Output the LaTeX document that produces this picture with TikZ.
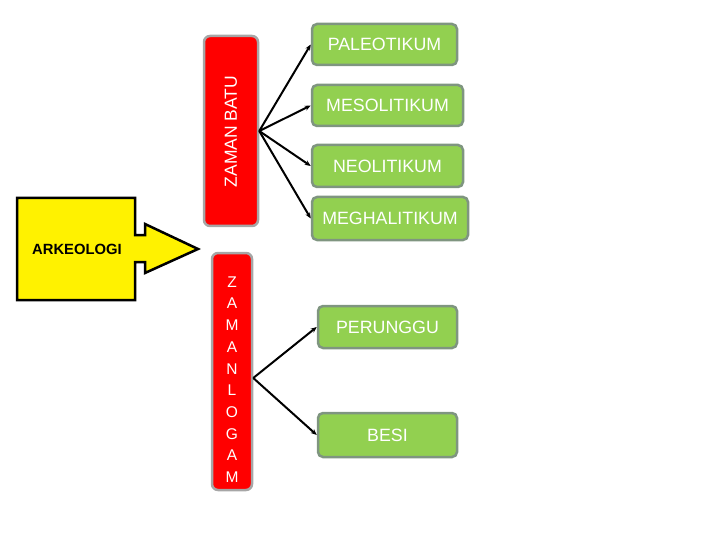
\documentclass[tikz,border=0pt]{standalone}
\usepackage{fontspec}
\setmainfont{Liberation Sans}
\usetikzlibrary{arrows.meta,calc}
\definecolor{gfill}{HTML}{92D050}
\definecolor{gedge}{HTML}{7F9580}
\definecolor{redge}{HTML}{A6A6A6}
\tikzset{
  gbox/.style={draw=gedge, line width=2.5pt, fill=gfill, rounded corners=5pt,
    text=white, font=\fontsize{17.8}{20}\selectfont, inner sep=0pt},
  rbox/.style={draw=redge, line width=2.5pt, fill=red, rounded corners=6pt, inner sep=0pt},
  wtext/.style={text=white, inner sep=0pt},
  conn/.style={line width=2pt, -{Stealth[length=6pt,width=5pt]}},
}
\begin{document}
\begin{tikzpicture}[x=1pt,y=-1pt]
\useasboundingbox (0,0) rectangle (720,540);
% yellow arrow
\draw[line width=2.5pt, fill=yellow, line join=miter]
  (17,198) -- (135,198) -- (135,235) -- (145,235) -- (145,224) -- (198,249)
  -- (145,273) -- (145,262) -- (135,262) -- (135,300) -- (17,300) -- cycle;
\node[inner sep=0pt, font=\fontsize{14.8}{18}\selectfont\bfseries] (ark) at (77,249) {ARKEOLOGI};
% red boxes
\node[rbox, minimum width=54pt, minimum height=190pt] (batu) at (231,131) {};
\node[wtext, rotate=90, font=\fontsize{17.5}{20}\selectfont] (batutext) at (231,131.5) {ZAMAN BATU};
\node[rbox, minimum width=40pt, minimum height=237pt] (logam) at (232,371.5) {};
\node[wtext, align=center, font=\fontsize{15.5}{21.67}\selectfont] (logamtext) at (232,379.5)
  {Z\\A\\M\\A\\N\\L\\O\\G\\A\\M};
% green boxes
\node[gbox, minimum width=145pt, minimum height=41pt] (paleo) at (384.5,44.5) {PALEOTIKUM};
\node[gbox, minimum width=151pt, minimum height=41pt] (meso) at (387.5,105.5) {MESOLITIKUM};
\node[gbox, minimum width=151pt, minimum height=42pt] (neo) at (387.5,166) {NEOLITIKUM};
\node[gbox, minimum width=156pt, minimum height=43pt] (megha) at (390,218.5) {MEGHALITIKUM};
\node[gbox, minimum width=139pt, minimum height=42pt] (perunggu) at (387.5,327) {PERUNGGU};
\node[gbox, minimum width=139pt, minimum height=44pt] (besi) at (387.5,435) {BESI};
% connectors
\coordinate (bo) at (batu.east);
\coordinate (lo) at ($(logam.east)+(0,6.5)$);
\draw[conn] (bo) -- (paleo.west);
\draw[conn] (bo) -- (meso.west);
\draw[conn] (bo) -- (neo.west);
\draw[conn] (bo) -- (megha.west);
\draw[conn] (lo) -- (perunggu.west);
\draw[conn] (lo) -- (besi.west);
\end{tikzpicture}
\end{document}
